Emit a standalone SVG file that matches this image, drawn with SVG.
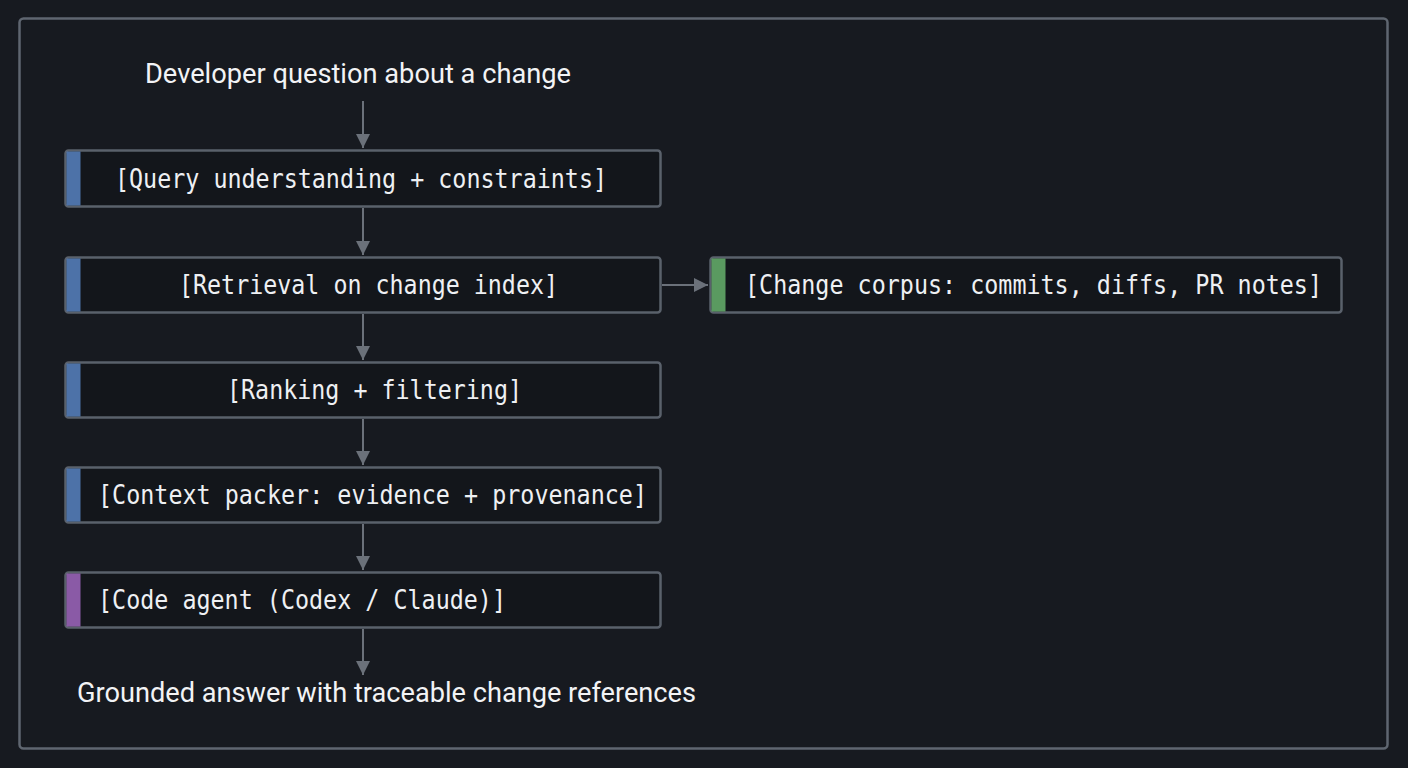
<svg xmlns="http://www.w3.org/2000/svg" width="1408" height="768" viewBox="0 0 1408 768">
<defs>
<style>
.frame{fill:none;stroke:#5f6670;stroke-width:2.5}
.box{fill:#13161b;stroke:#5a616b;stroke-width:2.5}
.mono{font-family:"DejaVu Sans Mono","Liberation Mono",monospace;font-size:26px;fill:#eef0f3}
.sans{font-family:Roboto,"Liberation Sans",sans-serif;font-size:27.5px;fill:#f2f3f5}
.conn{stroke:#6b717a;stroke-width:2;fill:none}
</style>
<marker id="ah" viewBox="0 0 14 14" refX="14" refY="7" markerWidth="14" markerHeight="14" markerUnits="userSpaceOnUse" orient="auto">
<path d="M0,0 L14,7 L0,14 Z" fill="#6b717a"/>
</marker>
</defs>
<rect width="1408" height="768" fill="#171a20"/>
<rect class="frame" x="19.5" y="18.5" width="1368" height="730" rx="4"/>

<g id="start">
<text class="sans" x="358" y="83" text-anchor="middle" textLength="426" lengthAdjust="spacingAndGlyphs">Developer question about a change</text>
</g>

<g id="query">
<rect class="box" x="65.5" y="150.5" width="595" height="56" rx="3"/>
<rect x="66.5" y="151.5" width="14" height="54" fill="#4d72a8"/>
<text class="mono" x="115" y="188" textLength="492" lengthAdjust="spacingAndGlyphs">[Query understanding + constraints]</text>
</g>

<g id="retrieval">
<rect class="box" x="65.5" y="257.5" width="595" height="55" rx="3"/>
<rect x="66.5" y="258.5" width="14" height="53" fill="#4d72a8"/>
<text class="mono" x="179" y="294" textLength="379" lengthAdjust="spacingAndGlyphs">[Retrieval on change index]</text>
</g>

<g id="corpus">
<rect class="box" x="710.5" y="257.5" width="631" height="55" rx="3"/>
<rect x="711.5" y="258.5" width="14" height="53" fill="#5a9a60"/>
<text class="mono" x="745" y="294" textLength="577" lengthAdjust="spacingAndGlyphs">[Change corpus: commits, diffs, PR notes]</text>
</g>

<g id="ranking">
<rect class="box" x="65.5" y="362.5" width="595" height="55" rx="3"/>
<rect x="66.5" y="363.5" width="14" height="53" fill="#4d72a8"/>
<text class="mono" x="227" y="399" textLength="295" lengthAdjust="spacingAndGlyphs">[Ranking + filtering]</text>
</g>

<g id="packer">
<rect class="box" x="65.5" y="467.5" width="595" height="55" rx="3"/>
<rect x="66.5" y="468.5" width="14" height="53" fill="#4d72a8"/>
<text class="mono" x="98" y="504" textLength="549" lengthAdjust="spacingAndGlyphs">[Context packer: evidence + provenance]</text>
</g>

<g id="agent">
<rect class="box" x="65.5" y="572.5" width="595" height="55" rx="3"/>
<rect x="66.5" y="573.5" width="14" height="53" fill="#8a5aa6"/>
<text class="mono" x="98" y="609" textLength="408" lengthAdjust="spacingAndGlyphs">[Code agent (Codex / Claude)]</text>
</g>

<g id="end">
<text class="sans" x="386.5" y="702" text-anchor="middle" textLength="619" lengthAdjust="spacingAndGlyphs">Grounded answer with traceable change references</text>
</g>

<g id="connectors">
<line class="conn" x1="363" y1="101" x2="363" y2="148" marker-end="url(#ah)"/>
<line class="conn" x1="363" y1="208" x2="363" y2="255" marker-end="url(#ah)"/>
<line class="conn" x1="363" y1="314" x2="363" y2="360" marker-end="url(#ah)"/>
<line class="conn" x1="363" y1="419" x2="363" y2="465" marker-end="url(#ah)"/>
<line class="conn" x1="363" y1="524" x2="363" y2="570" marker-end="url(#ah)"/>
<line class="conn" x1="363" y1="629" x2="363" y2="675" marker-end="url(#ah)"/>
<line class="conn" x1="662" y1="285" x2="708" y2="285" marker-end="url(#ah)"/>
</g>
</svg>
